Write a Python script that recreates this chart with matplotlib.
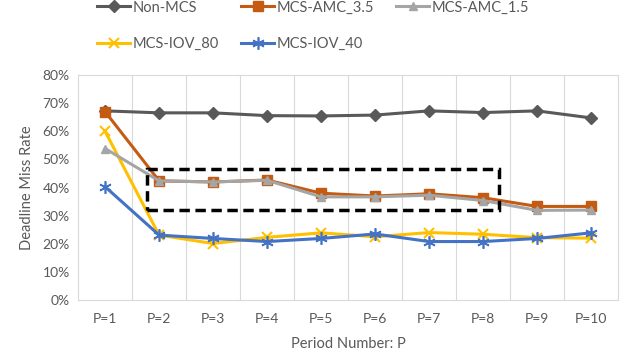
import matplotlib
matplotlib.use("Agg")
import matplotlib.pyplot as plt
from matplotlib.patches import Rectangle

plt.rcParams['font.family'] = ['Lato', 'DejaVu Sans']

# Datos (en %)
periodos = ["P=1", "P=2", "P=3", "P=4", "P=5", "P=6", "P=7", "P=8", "P=9", "P=10"]
non_mcs = [67.3, 66.6, 66.6, 65.6, 65.5, 65.8, 67.3, 66.7, 67.3, 64.8]
amc_35 = [67.0, 42.4, 42.0, 42.7, 38.0, 37.0, 37.8, 36.4, 33.3, 33.3]
amc_15 = [53.9, 42.4, 42.0, 42.6, 36.7, 36.7, 37.3, 35.4, 31.9, 32.0]
iov_80 = [60.0, 23.1, 20.1, 22.3, 23.9, 22.5, 24.0, 23.4, 22.2, 22.0]
iov_40 = [40.3, 23.1, 21.9, 20.8, 21.9, 23.5, 20.8, 20.8, 21.9, 23.9]

x = list(range(len(periodos)))
gris_texto = "#595959"

fig = plt.figure(figsize=(6.3, 3.58), dpi=100)
ax = fig.add_axes([0.124, 0.162, 0.857, 0.628])

h1, = ax.plot(x, non_mcs, color="#595959", lw=2.2, marker="D", ms=6, label="Non-MCS", zorder=3)
h2, = ax.plot(x, amc_35, color="#C55A11", lw=2.2, marker="s", ms=7, label="MCS-AMC_3.5", zorder=3)
h3, = ax.plot(x, amc_15, color="#A5A5A5", lw=2.2, marker="^", ms=6, label="MCS-AMC_1.5", zorder=4)
h4, = ax.plot(x, iov_80, color="#FFC000", lw=2.2, marker="x", ms=7, mew=1.5, label="MCS-IOV_80", zorder=3)
h5, = ax.plot(x, iov_40, color="#4472C4", lw=2.2, marker=(6, 2, 0), ms=9, mew=1.2, label="MCS-IOV_40", zorder=4)

# recuadro discontinuo
ax.add_patch(Rectangle((0.78, 32.0), 6.52, 14.5, fill=False, ec="black",
                       lw=2.5, ls=(0, (3, 1.6)), zorder=5))

ax.set_xlim(-0.5, len(periodos) - 0.5)
ax.set_ylim(0, 80)
ax.set_xticks(x)
ax.set_xticklabels(periodos)
ax.set_yticks(range(0, 81, 10))
ax.set_yticklabels([f"{v}%" for v in range(0, 81, 10)])
ax.tick_params(length=0, colors=gris_texto, labelsize=10, pad=9)
ax.tick_params(axis="y", pad=6)

# rejilla vertical entre categorías
for b in range(1, len(periodos)):
    ax.axvline(b - 0.5, color="#D9D9D9", lw=0.8, zorder=0)
for s in ax.spines.values():
    s.set_color("#D9D9D9")
    s.set_linewidth(0.8)

ax.set_ylabel("Deadline Miss Rate", color=gris_texto, fontsize=10.5, labelpad=6)
ax.set_xlabel("Period Number: P", color=gris_texto, fontsize=10.5, labelpad=9)

# orden por columnas para que se lea por filas
handles = [h1, h4, h2, h5, h3]
leg = fig.legend(handles=handles, labels=[h.get_label() for h in handles],
                 loc="upper left", bbox_to_anchor=(0.133, 1.035), ncol=3, frameon=False,
                 fontsize=10.5, handlelength=2.3, handletextpad=0.15,
                 columnspacing=1.5, labelspacing=1.55)
for t in leg.get_texts():
    t.set_color(gris_texto)

fig.savefig("out.png", dpi=100)
